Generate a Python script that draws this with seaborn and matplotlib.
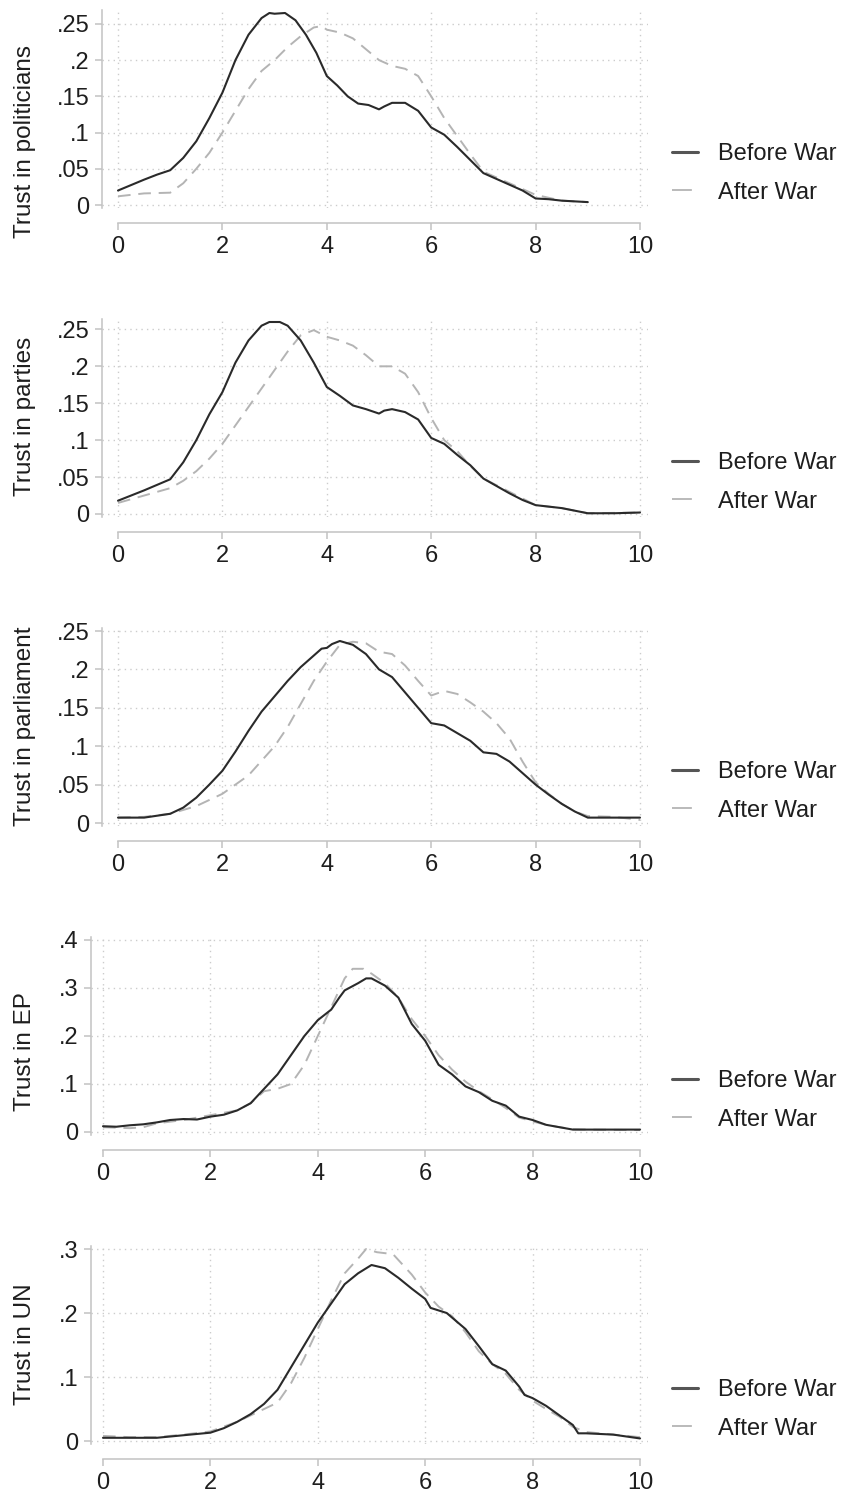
import numpy as np
import pandas as pd
import matplotlib
matplotlib.use("Agg")
import matplotlib.pyplot as plt
from matplotlib.lines import Line2D
import seaborn as sns

# ---------------- data ----------------
titles = ["Trust in politicians", "Trust in parties", "Trust in parliament",
          "Trust in EP", "Trust in UN"]
series_labels = ["Before War", "After War"]
x_ticks = [0, 2, 4, 6, 8, 10]
x_tick_labels = ["0", "2", "4", "6", "8", "10"]

yticks_025 = [0, 0.05, 0.10, 0.15, 0.20, 0.25]
yticklabels_025 = ["0", ".05", ".1", ".15", ".2", ".25"]
yticks_04 = [0, 0.1, 0.2, 0.3, 0.4]
yticklabels_04 = ["0", ".1", ".2", ".3", ".4"]
yticks_03 = [0, 0.1, 0.2, 0.3]
yticklabels_03 = ["0", ".1", ".2", ".3"]

# Trust in politicians
pol_before_x = [0, 0.5, 0.75, 1.0, 1.25, 1.5, 1.75, 2.0, 2.25, 2.5, 2.75, 2.9, 3.0, 3.2, 3.4, 3.6,
                3.8, 4.0, 4.2, 4.4, 4.6, 4.8, 5.0, 5.1, 5.25, 5.5, 5.75, 6.0, 6.25, 6.5, 6.75,
                7.0, 7.25, 7.5, 7.75, 8.0, 8.25, 8.5, 8.75, 9.0]
pol_before_y = [.020, .035, .042, .048, .065, .088, .120, .155, .200, .235, .258, .265, .264, .265,
                .255, .235, .210, .178, .165, .150, .140, .138, .132, .136, .141, .141, .130, .107,
                .097, .080, .062, .044, .036, .028, .020, .009, .008, .006, .005, .004]
pol_after_x = [0, 0.5, 1.0, 1.25, 1.5, 1.75, 2.0, 2.25, 2.5, 2.75, 3.0, 3.25, 3.5, 3.75, 3.9, 4.0,
               4.25, 4.5, 4.75, 5.0, 5.25, 5.5, 5.75, 6.0, 6.25, 6.5, 6.75, 7.0, 7.25, 7.5, 7.75,
               8.0, 8.25, 8.5, 8.75, 9.0]
pol_after_y = [.012, .016, .017, .030, .050, .072, .100, .130, .160, .185, .200, .218, .233, .245,
               .247, .242, .238, .230, .215, .200, .192, .188, .178, .150, .120, .095, .070, .046,
               .038, .030, .022, .014, .010, .006, .005, .004]

# Trust in parties
par_before_x = [0, 0.5, 1.0, 1.25, 1.5, 1.75, 2.0, 2.25, 2.5, 2.75, 2.9, 3.1, 3.25, 3.5, 3.75, 4.0,
                4.25, 4.5, 4.75, 5.0, 5.1, 5.25, 5.5, 5.75, 6.0, 6.25, 6.5, 6.75, 7.0, 7.25, 7.5,
                7.75, 8.0, 8.5, 9.0, 9.5, 10.0]
par_before_y = [.018, .032, .047, .070, .100, .135, .165, .205, .235, .255, .260, .260, .255, .235,
                .205, .172, .160, .147, .142, .136, .140, .142, .138, .128, .103, .095, .080, .066,
                .048, .038, .028, .019, .012, .008, .001, .001, .002]
par_after_x = [0, 0.5, 1.0, 1.25, 1.5, 1.75, 2.0, 2.25, 2.5, 2.75, 3.0, 3.25, 3.5, 3.75, 4.0, 4.25,
               4.5, 4.75, 5.0, 5.25, 5.5, 5.75, 6.0, 6.25, 6.5, 6.75, 7.0, 7.5, 8.0, 8.5, 9.0, 10.0]
par_after_y = [.015, .025, .035, .045, .058, .075, .095, .120, .145, .170, .195, .220, .242, .249,
               .240, .235, .228, .215, .200, .200, .190, .165, .130, .100, .085, .065, .048, .030,
               .012, .008, .001, .002]

# Trust in parliament
parl_before_x = [0, 0.5, 1.0, 1.25, 1.5, 1.75, 2.0, 2.25, 2.5, 2.75, 3.0, 3.25, 3.5, 3.75, 3.9,
                 4.0, 4.1, 4.25, 4.5, 4.75, 5.0, 5.25, 5.5, 5.75, 6.0, 6.25, 6.5, 6.75, 7.0, 7.25,
                 7.5, 7.75, 8.0, 8.25, 8.5, 8.75, 9.0, 9.5, 10.0]
parl_before_y = [.007, .007, .012, .020, .033, .050, .068, .093, .120, .145, .165, .185, .203, .218,
                 .227, .228, .233, .237, .232, .220, .200, .190, .170, .150, .130, .127, .117, .107,
                 .092, .090, .080, .065, .050, .037, .025, .015, .007, .007, .007]
parl_after_x = [0, 0.5, 1.0, 1.5, 2.0, 2.5, 3.0, 3.25, 3.5, 3.75, 4.0, 4.25, 4.5, 4.75, 5.0, 5.25,
                5.5, 5.75, 6.0, 6.25, 6.5, 6.75, 7.0, 7.25, 7.5, 7.75, 8.0, 8.25, 8.5, 8.75, 9.0,
                9.5, 10.0]
parl_after_y = [.007, .008, .012, .022, .038, .062, .100, .125, .155, .185, .210, .232, .236, .234,
                .223, .220, .205, .185, .166, .172, .168, .157, .145, .130, .110, .080, .053, .038,
                .025, .015, .009, .008, .004]

# Trust in EP
ep_before_x = [0, 0.25, 0.5, 0.75, 1.0, 1.25, 1.5, 1.75, 2.0, 2.25, 2.5, 2.75, 3.0, 3.25, 3.5,
               3.75, 4.0, 4.25, 4.4, 4.5, 4.75, 4.9, 5.0, 5.25, 5.5, 5.75, 6.0, 6.25, 6.5, 6.75,
               7.0, 7.25, 7.5, 7.75, 8.0, 8.25, 8.5, 8.75, 9.0, 9.5, 10.0]
ep_before_y = [.012, .011, .014, .016, .020, .025, .027, .026, .032, .036, .045, .060, .090, .120,
               .160, .200, .233, .255, .280, .295, .310, .320, .320, .305, .280, .225, .190, .140,
               .120, .095, .083, .065, .055, .032, .025, .015, .010, .005, .005, .005, .005]
ep_after_x = [0, 0.5, 0.75, 1.0, 1.5, 2.0, 2.5, 2.75, 3.0, 3.25, 3.5, 3.75, 4.0, 4.25, 4.5, 4.65,
              4.85, 5.0, 5.25, 5.5, 5.75, 6.0, 6.25, 6.5, 6.75, 7.0, 7.25, 7.5, 7.75, 8.0, 8.25,
              8.5, 8.75, 9.0, 10.0]
ep_after_y = [.010, .008, .010, .018, .025, .035, .045, .060, .085, .090, .100, .140, .200, .260,
              .320, .340, .340, .330, .310, .280, .235, .200, .160, .130, .105, .085, .068, .050,
              .030, .022, .015, .010, .006, .005, .004]

# Trust in UN
un_before_x = [0, 0.5, 1.0, 1.5, 2.0, 2.25, 2.5, 2.75, 3.0, 3.25, 3.5, 3.75, 4.0, 4.25, 4.5, 4.75,
               5.0, 5.25, 5.5, 5.75, 6.0, 6.1, 6.4, 6.75, 7.0, 7.25, 7.5, 7.75, 7.85, 8.0, 8.25,
               8.5, 8.75, 8.85, 9.0, 9.5, 10.0]
un_before_y = [.005, .005, .005, .009, .013, .020, .030, .042, .058, .080, .115, .150, .185, .215,
               .245, .262, .275, .270, .255, .238, .222, .208, .200, .175, .148, .120, .110, .085,
               .072, .067, .055, .040, .025, .012, .012, .010, .004]
un_after_x = [0, 0.5, 1.0, 1.5, 2.0, 2.5, 3.0, 3.25, 3.5, 3.75, 4.0, 4.25, 4.5, 4.75, 4.9, 5.1,
              5.4, 5.75, 6.0, 6.25, 6.5, 6.75, 7.0, 7.25, 7.5, 7.75, 8.0, 8.25, 8.5, 8.75, 9.0,
              9.5, 10.0]
un_after_y = [.008, .006, .006, .010, .015, .030, .050, .060, .090, .130, .175, .220, .262, .285,
              .300, .295, .292, .260, .232, .210, .195, .170, .140, .120, .105, .080, .063, .050,
              .038, .022, .014, .010, .006]

panels = [
    (titles[0], pol_before_x, pol_before_y, pol_after_x, pol_after_y, yticks_025, yticklabels_025),
    (titles[1], par_before_x, par_before_y, par_after_x, par_after_y, yticks_025, yticklabels_025),
    (titles[2], parl_before_x, parl_before_y, parl_after_x, parl_after_y, yticks_025, yticklabels_025),
    (titles[3], ep_before_x, ep_before_y, ep_after_x, ep_after_y, yticks_04, yticklabels_04),
    (titles[4], un_before_x, un_before_y, un_after_x, un_after_y, yticks_03, yticklabels_03),
]

# ---------------- style ----------------
sns.set_theme(style="white")
plt.rcParams["font.family"] = ["Liberation Sans", "DejaVu Sans"]
tick_size = 17

W, H = 846, 1496
fig = plt.figure(figsize=(W / 100, H / 100), dpi=100)
fig.patch.set_facecolor("white")

def fx(px):
    return px / W

def fy(py):
    return 1 - py / H

TEXT = "#1e1e1e"
AXC = "#c2c2c2"
GRID = "#cccccc"
C_BEFORE = "#2a2a2a"
C_AFTER = "#b4b4b4"

label_centers = [141, 416, 726, 1052, 1344]

for i, (title, bx, by, ax_, ay, yt, ytl) in enumerate(panels):
    y0 = 205 + 309 * i
    x0 = 118 if i < 3 else 103
    left_px = 102 if i < 3 else 91
    right_px = 648
    ppu = (640 - x0) / 10.0
    top = max(yt[-1], max(by), max(ay))
    m = 3
    region = 192
    bottom_px = y0 + m
    top_px = y0 - region - m
    ax = fig.add_axes([fx(left_px), fy(bottom_px), fx(right_px) - fx(left_px),
                       fy(top_px) - fy(bottom_px)])
    ax.set_facecolor("white")

    df_a = pd.DataFrame({"x": ax_, "y": ay})
    df_b = pd.DataFrame({"x": bx, "y": by})
    sns.lineplot(data=df_a, x="x", y="y", ax=ax, color=C_AFTER, lw=1.4,
                 linestyle=(0, (6.5, 4)), estimator=None, sort=False, legend=False)
    sns.lineplot(data=df_b, x="x", y="y", ax=ax, color=C_BEFORE, lw=1.5,
                 estimator=None, sort=False, legend=False)

    # spines first (set_position resets tick formatting)
    for s in ["top", "right"]:
        ax.spines[s].set_visible(False)
    ax.spines["left"].set_color(AXC)
    ax.spines["left"].set_linewidth(1.1)
    ax.spines["bottom"].set_color(AXC)
    ax.spines["bottom"].set_linewidth(1.1)
    ax.spines["bottom"].set_position(("outward", 11))
    ax.spines["bottom"].set_bounds(0, 10)

    ax.set_xlim(-(x0 - left_px) / ppu, 10 + (right_px - 640) / ppu)
    ax.set_ylim(-m * top / region, top + m * top / region)
    ax.set_xticks(x_ticks, labels=x_tick_labels)
    ax.set_yticks(yt, labels=ytl)
    ax.set_xlabel("")
    ax.set_ylabel("")

    ax.grid(True, color=GRID, linestyle=(0, (1, 3)), lw=1.0)
    ax.tick_params(axis="both", direction="out", length=5, width=1.1, color=AXC,
                   pad=4, bottom=True, left=True, labelsize=tick_size, labelcolor=TEXT)

    fig.text(fx(25), fy(label_centers[i]), title, rotation=90, ha="center", va="center",
             fontsize=17.5, color=TEXT)

    handles = [Line2D([], [], color="#555555", lw=2.2),
               Line2D([], [], color=C_AFTER, lw=1.3, linestyle=(0, (11, 20)))]
    fig.legend(handles=handles, labels=series_labels, loc="center left",
               bbox_to_anchor=(fx(672), fy(y0 - 31.5)), frameon=False, fontsize=17,
               handlelength=1.1, handletextpad=0.85, labelspacing=0.68,
               borderpad=0, borderaxespad=0, labelcolor=TEXT)

fig.savefig("out.png", dpi=100, facecolor="white")
